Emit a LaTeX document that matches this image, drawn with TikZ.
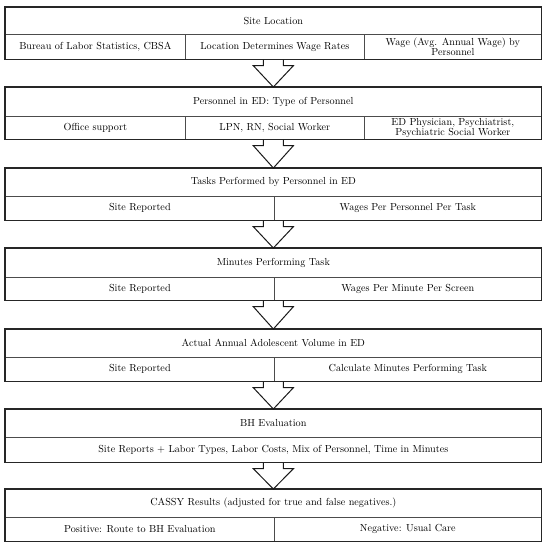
\documentclass[tikz,border=0pt]{standalone}
\usetikzlibrary{calc}
\tikzset{
  cell/.style={draw=black!70, line width=0.7pt, inner sep=0pt, align=center,
    font=\fontsize{10.2}{11.5}\selectfont, anchor=north west},
  sz/.style n args={2}{minimum width=#1pt, minimum height=#2pt},
  frame/.style={draw=black!85, line width=1.3pt},
  bigarrow/.style={draw=black!90, line width=1pt, line join=miter}
}
\newcommand{\bigarr}[3]{% title node of upper box, a bottom cell of upper box, title node of lower box
  \draw[bigarrow] let \p1=(#1.south), \p2=(#2.south), \p3=(#3.north) in
    (\x1-10pt,\y2) -- (\x1-10pt,\y2-6pt) -- (\x1-20pt,\y2-6pt) -- (\x1,\y3)
    -- (\x1+20pt,\y2-6pt) -- (\x1+10pt,\y2-6pt) -- (\x1+10pt,\y2);
}
\begin{document}
\begin{tikzpicture}[x=1pt,y=-1pt]
\useasboundingbox (0,0) rectangle (547,550);
% Box 1
\node[cell, sz={536}{27}] (t1) at (5,7) {Site Location};
\node[cell, sz={180}{25}] (c1a) at (5,34) {Bureau of Labor Statistics, CBSA};
\node[cell, sz={179}{25}] (c1b) at (185,34) {Location Determines Wage Rates};
\node[cell, sz={177}{25}] (c1c) at (364,34) {Wage (Avg. Annual Wage) by\\[-1.5pt]Personnel};
\draw[frame] (t1.north west) rectangle (c1c.south east);
% Box 2
\node[cell, sz={536}{29}] (t2) at (5,87) {Personnel in ED: Type of Personnel};
\node[cell, sz={180}{23}] (c2a) at (5,116) {Office support};
\node[cell, sz={179}{23}] (c2b) at (185,116) {LPN, RN, Social Worker};
\node[cell, sz={177}{23}] (c2c) at (364,116) {ED Physician, Psychiatrist,\\[-1.5pt]Psychiatric Social Worker};
\draw[frame] (t2.north west) rectangle (c2c.south east);
% Box 3
\node[cell, sz={536}{28}] (t3) at (5,168) {Tasks Performed by Personnel in ED};
\node[cell, sz={269}{24}] (c3a) at (5,196) {Site Reported};
\node[cell, sz={267}{24}] (c3b) at (274,196) {Wages Per Personnel Per Task};
\draw[frame] (t3.north west) rectangle (c3b.south east);
% Box 4
\node[cell, sz={536}{29}] (t4) at (5,248) {Minutes Performing Task};
\node[cell, sz={269}{23}] (c4a) at (5,277) {Site Reported};
\node[cell, sz={267}{23}] (c4b) at (274,277) {Wages Per Minute Per Screen};
\draw[frame] (t4.north west) rectangle (c4b.south east);
% Box 5
\node[cell, sz={536}{28}] (t5) at (5,329) {Actual Annual Adolescent Volume in ED};
\node[cell, sz={269}{24}] (c5a) at (5,357) {Site Reported};
\node[cell, sz={267}{24}] (c5b) at (274,357) {Calculate Minutes Performing Task};
\draw[frame] (t5.north west) rectangle (c5b.south east);
% Box 6
\node[cell, sz={536}{28}] (t6) at (5,409) {BH Evaluation};
\node[cell, sz={536}{25}] (c6a) at (5,437) {Site Reports + Labor Types, Labor Costs, Mix of Personnel, Time in Minutes};
\draw[frame] (t6.north west) rectangle (c6a.south east);
% Box 7
\node[cell, sz={536}{28}] (t7) at (5,489) {CASSY Results (adjusted for true and false negatives.)};
\node[cell, sz={269}{24}] (c7a) at (5,517) {Positive: Route to BH Evaluation};
\node[cell, sz={267}{24}] (c7b) at (274,517) {Negative: Usual Care};
\draw[frame] (t7.north west) rectangle (c7b.south east);
% Arrows
\bigarr{t1}{c1b}{t2}
\bigarr{t2}{c2b}{t3}
\bigarr{t3}{c3a}{t4}
\bigarr{t4}{c4a}{t5}
\bigarr{t5}{c5a}{t6}
\bigarr{t6}{c6a}{t7}
\end{tikzpicture}
\end{document}
